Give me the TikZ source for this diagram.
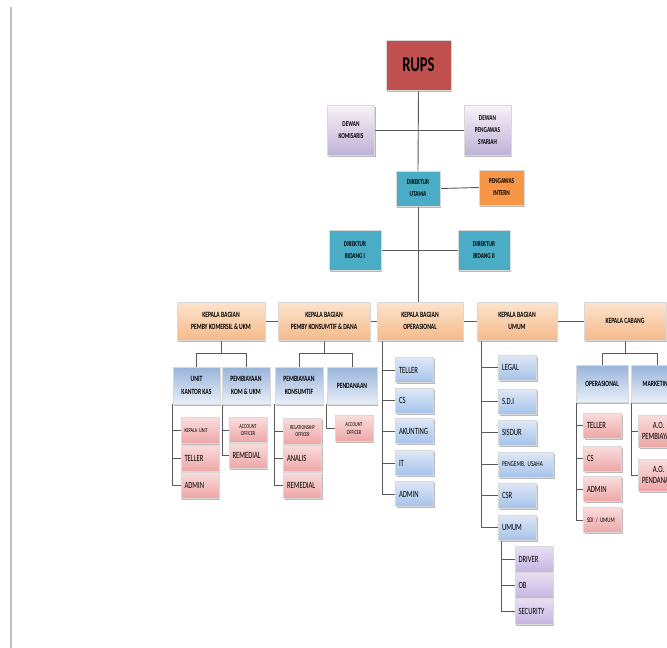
\documentclass[tikz,border=0pt]{standalone}
\usepackage{fontspec}
\setmainfont{Carlito}[FakeStretch=0.7]
\usetikzlibrary{shadows,backgrounds}

\definecolor{rupsred}{HTML}{C0504D}
\definecolor{dirteal}{HTML}{4BACC6}
\definecolor{internorange}{HTML}{F79646}
\definecolor{linegray}{HTML}{595959}

\begin{document}
\begin{tikzpicture}[x=1pt, y=-1pt,
        box/.style={rectangle, draw=black!15, line width=0.5pt, inner sep=2pt, align=center, text=black,
            font=\bfseries\fontsize{7.5}{12}\selectfont,
            drop shadow={shadow xshift=1.2pt, shadow yshift=-1.8pt, fill=black!45, opacity=0.6}},
        dewan/.style={box, top color=white!95!violet, bottom color={rgb,255:red,190;green,178;blue,214}},
        direksi/.style={box, fill=dirteal},
        kabag/.style={box, top color={rgb,255:red,252;green,228;blue,207}, bottom color={rgb,255:red,246;green,186;blue,138},
            minimum height=38pt, font=\bfseries\fontsize{8}{12.5}\selectfont},
        seksi/.style={box, top color={rgb,255:red,152;green,180;blue,218}, bottom color={rgb,255:red,232;green,239;blue,248},
            minimum height=37pt, font=\bfseries\fontsize{8}{12.5}\selectfont},
        unit/.style={box, top color={rgb,255:red,222;green,232;blue,247}, bottom color={rgb,255:red,166;green,194;blue,234},
            minimum height=25pt, text width=31pt, inner xsep=3.5pt, align=left, font=\fontsize{9.5}{11}\selectfont},
        staf/.style={unit, top color={rgb,255:red,250;green,221;blue,221}, bottom color={rgb,255:red,238;green,166;blue,166},
            minimum height=26pt},
        tugas/.style={unit, top color={rgb,255:red,232;green,224;blue,244}, bottom color={rgb,255:red,196;green,180;blue,224},
            minimum height=26pt},
        tiny/.style={font=\fontsize{6}{7.5}\selectfont},
        conn/.style={draw=linegray, line width=0.9pt}
    ]
        \useasboundingbox (0,0) rectangle (667,648);
        \clip (0,0) rectangle (667,648);
        \draw[black!25, line width=1.5pt] (11,7) -- (11,648);

        % pimpinan
        \node[box, fill=rupsred, minimum width=65pt, minimum height=50pt, font=\bfseries\fontsize{21}{21}\selectfont] (rups) at (418.5,65) {RUPS};
        \node[dewan, minimum width=47pt, minimum height=50pt] (komisaris) at (351,130) {DEWAN\\KOMISARIS};
        \node[dewan, minimum width=47pt, minimum height=50pt] (syariah) at (487.5,130) {DEWAN\\PENGAWAS\\SYARIAH};
        \node[direksi, minimum width=44pt, minimum height=35pt] (dirut) at (418,188.5) {DIREKTUR\\UTAMA};
        \node[box, fill=internorange, minimum width=45pt, minimum height=35pt] (intern) at (501.5,187.5) {PENGAWAS\\INTERN};
        \node[direksi, minimum width=52pt, minimum height=40pt] (bidang1) at (355,250) {DIREKTUR\\BIDANG I};
        \node[direksi, minimum width=52pt, minimum height=40pt] (bidang2) at (484,250) {DIREKTUR\\BIDANG II};

        % kepala bagian
        \node[kabag, minimum width=88pt] (kbKomersil) at (221,321) {KEPALA BAGIAN\\PEMBY KOMERSIL \& UKM};
        \node[kabag, minimum width=92pt] (kbKonsumtif) at (324,321) {KEPALA BAGIAN\\PEMBY KONSUMTIF \& DANA};
        \node[kabag, minimum width=86pt] (kbOps) at (420,321) {KEPALA BAGIAN\\OPERASIONAL};
        \node[kabag, minimum width=80pt] (kbUmum) at (517,321) {KEPALA BAGIAN\\UMUM};
        \node[kabag, minimum width=82pt] (kbCabang) at (625,321) {KEPALA CABANG};

        % seksi
        \node[seksi, minimum width=47pt] (unitKas) at (196.5,385.5) {UNIT\\KANTOR KAS};
        \node[seksi, minimum width=48pt] (pembKom) at (246,385.5) {PEMBIAYAAN\\KOM \& UKM};
        \node[seksi, minimum width=48pt] (pembKons) at (299,385.5) {PEMBIAYAAN\\KONSUMTIF};
        \node[seksi, minimum width=50pt] (dana) at (352,385.5) {PENDANAAN};
        \node[seksi, minimum width=52pt] (cabOps) at (602,383.5) {OPERASIONAL};
        \node[seksi, minimum width=52pt] (cabMkt) at (657,383.5) {MARKETING};

        % staf komersil & konsumtif
        \node[staf, tiny] (ukKepala) at (200,430.5) {KEPALA UNIT};
        \node[staf] (ukTeller) at (200,458) {TELLER};
        \node[staf] (ukAdmin) at (200,485) {ADMIN};
        \node[staf, tiny, align=center, minimum height=25pt] (pkAO) at (248,430) {ACCOUNT\\OFFICER};
        \node[staf, minimum height=25pt] (pkRemedial) at (248,455.5) {REMEDIAL};
        \node[staf, tiny, align=center] (ksRO) at (302.5,431) {RELATIONSHIP\\OFFICER};
        \node[staf] (ksAnalis) at (302.5,458) {ANALIS};
        \node[staf] (ksRemedial) at (302.5,485) {REMEDIAL};
        \node[staf, tiny, align=center] (dnAO) at (354,428.5) {ACCOUNT\\OFFICER};

        % operasional
        \node[unit] (opTeller) at (414.5,370) {TELLER};
        \node[unit] (opCS) at (414.5,400.5) {CS};
        \node[unit] (opAkunting) at (414.5,431) {AKUNTING};
        \node[unit] (opIT) at (414.5,463) {IT};
        \node[unit] (opAdmin) at (414.5,494) {ADMIN};

        % umum
        \node[unit] (umLegal) at (517.5,367.5) {LEGAL};
        \node[unit] (umSDI) at (517.5,401.5) {S.D.I};
        \node[unit] (umSisdur) at (517.5,432.5) {SISDUR};
        \node[unit, font=\fontsize{7.5}{9}\selectfont, text width=48pt] (umUsaha) at (526,464.5) {PENGEMB. USAHA};
        \node[unit] (umCSR) at (517.5,495.5) {CSR};
        \node[unit] (umUmum) at (517.5,527.5) {UMUM};
        \node[tugas] (umDriver) at (534,559.5) {DRIVER};
        \node[tugas] (umOB) at (534,585.5) {OB};
        \node[tugas] (umSecurity) at (534,611.5) {SECURITY};

        % cabang
        \node[staf, minimum height=25pt] (cbTeller) at (602.5,425.5) {TELLER};
        \node[staf, minimum height=25pt] (cbCS) at (602.5,458.5) {CS};
        \node[staf, minimum height=25pt] (cbAdmin) at (602.5,489) {ADMIN};
        \node[staf, font=\fontsize{7}{8}\selectfont, minimum height=25pt] (cbSdi) at (602.5,520) {SDI / UMUM};
        \node[staf, align=center, text width=33pt, minimum height=32pt] (cbAOPemb) at (658.5,431) {A.O.\\PEMBIAYAAN};
        \node[staf, align=center, text width=33pt, minimum height=32pt] (cbAODana) at (658.5,475) {A.O.\\PENDANAAN};

        \begin{scope}[on background layer]
            \draw[conn] (rups.south) -- (dirut.north);
            \draw[conn] (komisaris.east) -- (syariah.west);
            \draw[conn] (dirut.east) -- (intern.west);
            \draw[conn] (dirut.south) -- (dirut.south |- kbOps.north);
            \draw[conn] (bidang1.east) -- (bidang2.west);
            \draw[conn] (kbKomersil.east) -- (kbKonsumtif.west);
            \draw[conn] (kbKonsumtif.east) -- (kbOps.west);
            \draw[conn] (kbOps.east) -- (kbUmum.west);
            \draw[conn] (kbUmum.east) -- (kbCabang.west);

            % percabangan seksi
            \draw[conn] (kbKomersil.south) -- ++(0,13) coordinate (brKomersil) -| (unitKas.north);
            \draw[conn] (brKomersil) -| (pembKom.north);
            \draw[conn] (kbKonsumtif.south) -- ++(0,13) coordinate (brKonsumtif) -| (pembKons.north);
            \draw[conn] (brKonsumtif) -| (dana.north);
            \draw[conn] (kbCabang.south) -- ++(0,13) coordinate (brCabang) -| (cabOps.north);
            \draw[conn] (brCabang) -| (cabMkt.north);

            % garis staf
            \coordinate (busUnit) at (unitKas.south west);
            \draw[conn] (busUnit) |- (ukAdmin.west);
            \foreach \n in {ukKepala, ukTeller} \draw[conn] (busUnit |- \n.west) -- (\n.west);
            \coordinate (busKom) at ([xshift=1pt]pembKom.south west);
            \draw[conn] (busKom) |- (pkRemedial.west);
            \draw[conn] (busKom |- pkAO.west) -- (pkAO.west);
            \coordinate (busKons) at (pembKons.south west);
            \draw[conn] (busKons) |- (ksRemedial.west);
            \foreach \n in {ksRO, ksAnalis} \draw[conn] (busKons |- \n.west) -- (\n.west);
            \coordinate (busDana) at (dana.south west);
            \draw[conn] (busDana) |- (dnAO.west);

            \coordinate (busOps) at ([xshift=6pt]kbOps.south west);
            \draw[conn] (busOps) |- (opAdmin.west);
            \foreach \n in {opTeller, opCS, opAkunting, opIT} \draw[conn] (busOps |- \n.west) -- (\n.west);
            \coordinate (busUmum) at ([xshift=5pt]kbUmum.south west);
            \draw[conn] (busUmum) |- (umUmum.west);
            \foreach \n in {umLegal, umSDI, umSisdur, umUsaha, umCSR} \draw[conn] (busUmum |- \n.west) -- (\n.west);
            \coordinate (busBagUmum) at ([xshift=3pt]umUmum.south west);
            \draw[conn] (busBagUmum) |- (umSecurity.west);
            \foreach \n in {umDriver, umOB} \draw[conn] (busBagUmum |- \n.west) -- (\n.west);

            \coordinate (busCabOps) at ([xshift=1pt]cabOps.south west);
            \draw[conn] (busCabOps) |- (cbSdi.west);
            \foreach \n in {cbTeller, cbCS, cbAdmin} \draw[conn] (busCabOps |- \n.west) -- (\n.west);
            \coordinate (busMkt) at ([xshift=1pt]cabMkt.south west);
            \draw[conn] (busMkt) |- (cbAODana.west);
            \draw[conn] (busMkt |- cbAOPemb.west) -- (cbAOPemb.west);
        \end{scope}
    \end{tikzpicture}
\end{document}
